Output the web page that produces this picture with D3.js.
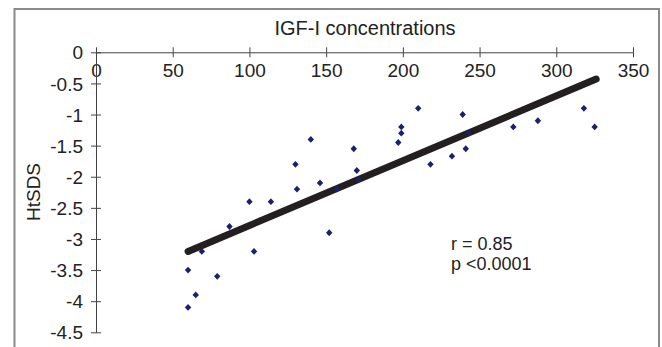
<!DOCTYPE html>
<html>
<head>
<meta charset="utf-8">
<script src="https://cdn.jsdelivr.net/npm/d3@7"></script>
<style>
  html, body { margin: 0; padding: 0; background: #fff; }
  svg { display: block; font-family: "Liberation Sans", Arial, sans-serif; }
</style>
</head>
<body>
<svg id="chart" width="662" height="347"></svg>
<script>
let titleText = "IGF-I concentrations"
let yLabel = "HtSDS"
let xTicks = [0, 50, 100, 150, 200, 250, 300, 350]
let yTicks = [0, -0.5, -1, -1.5, -2, -2.5, -3, -3.5, -4, -4.5]

// IGF-I (x) and HtSDS (y)
let igfValues = [210, 239, 318, 288, 272, 325, 199, 199, 197, 243, 241, 232, 218, 140, 168, 130,
                 170, 171, 131, 146, 157, 100, 114, 87, 152, 69, 103, 60, 79, 65, 60]
let htsdsValues = [-0.9, -1.0, -0.9, -1.1, -1.2, -1.2, -1.2, -1.3, -1.45, -1.3, -1.55, -1.67, -1.8, -1.4, -1.55, -1.8,
                   -1.9, -2.05, -2.2, -2.1, -2.2, -2.4, -2.4, -2.8, -2.9, -3.2, -3.2, -3.5, -3.6, -3.9, -4.1]

// regression line ends
let trendX = [60, 326]
let trendY = [-3.2, -0.43]

let stats = ["r = 0.85", "p <0.0001"]

let svg = d3.select("#chart")

let x = d3.scaleLinear().domain([0, 350]).range([96, 633])
let y = d3.scaleLinear().domain([0, -4.5]).range([52.3, 332.3])

// outer frame
svg.append("rect")
    .attr("x", 14.5)
    .attr("y", 9)
    .attr("width", 644.5)
    .attr("height", 360)
    .attr("fill", "none")
    .attr("stroke", "#8a8a8a")
    .attr("stroke-width", 2)

svg.append("text")
    .attr("x", 365)
    .attr("y", 35)
    .attr("text-anchor", "middle")
    .style("font-size", "20px")
    .attr("fill", "#222")
    .text(titleText)

// x axis at y = 0, ticks cross the line
let xAxis = svg.append("g")
    .attr("transform", "translate(0," + y(0) + ")")
xAxis.call(d3.axisBottom(x).tickValues(xTicks).tickSize(5).tickSizeOuter(0))
xAxis.call(g => g.selectAll(".tick").append("line").attr("y2", -5).attr("stroke", "currentColor"))
xAxis.selectAll("text")
    .attr("y", 25)
    .attr("dy", 0)
    .style("font-size", "19px")
    .attr("fill", "#222")

let yAxis = svg.append("g")
    .attr("transform", "translate(" + x(0) + ",0)")
yAxis.call(d3.axisLeft(y).tickValues(yTicks).tickSize(5).tickSizeOuter(0).tickFormat(d => d3.format("")(d).replace("−", "-")))
yAxis.call(g => g.selectAll(".tick").append("line").attr("x2", 5).attr("stroke", "currentColor"))
yAxis.selectAll("text")
    .attr("x", -13)
    .attr("dy", "0.35em")
    .style("font-size", "19px")
    .attr("fill", "#222")

svg.selectAll(".domain, .tick line").attr("stroke", "#444")

svg.append("text")
    .attr("transform", "translate(40,192) rotate(-90)")
    .attr("text-anchor", "middle")
    .style("font-size", "19px")
    .attr("fill", "#222")
    .text(yLabel)

// regression line
svg.append("line")
    .attr("x1", x(trendX[0]))
    .attr("y1", y(trendY[0]))
    .attr("x2", x(trendX[1]))
    .attr("y2", y(trendY[1]))
    .attr("stroke", "#231f20")
    .attr("stroke-width", 7)
    .attr("stroke-linecap", "round")

let points = igfValues.map((v, i) => ({ igf: v, ht: htsdsValues[i] }))

svg.selectAll(".pt")
    .data(points)
    .enter()
    .append("path")
    .attr("class", "pt")
    .attr("d", "M0,-3.4L3.2,0L0,3.4L-3.2,0Z")
    .attr("transform", d => "translate(" + x(d.igf) + "," + y(d.ht) + ")")
    .attr("fill", "#1c1f6e")

svg.append("text")
    .selectAll("tspan")
    .data(stats)
    .enter()
    .append("tspan")
    .attr("x", 451)
    .attr("y", (d, i) => 250 + i * 20)
    .style("font-size", "18px")
    .attr("fill", "#222")
    .text(d => d)
</script>
</body>
</html>
